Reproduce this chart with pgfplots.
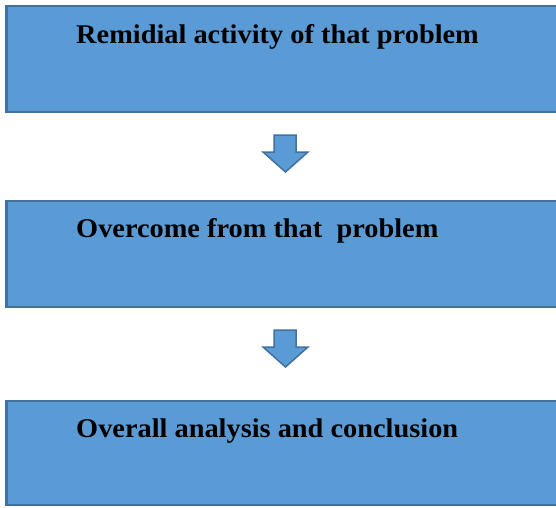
\documentclass[border=0pt]{standalone}
\usepackage{pgfplots}
\pgfplotsset{compat=1.18}
\usepackage{fontspec}
\setmainfont{Liberation Serif}
\definecolor{boxfill}{HTML}{5B9BD5}
\definecolor{boxline}{HTML}{41719C}
\begin{document}
\begin{tikzpicture}
\begin{axis}[
  at={(0,0)}, anchor=south west,
  width=556pt, height=507pt, scale only axis,
  xmin=0, xmax=556, ymin=0, ymax=507, y dir=reverse,
  axis lines=none, clip=true,
]
% boxes
\addplot[fill=boxfill, draw=boxline, line width=2.5pt] coordinates {(6.5,6) (570,6) (570,112) (6.5,112)} -- cycle;
\addplot[fill=boxfill, draw=boxline, line width=2.5pt] coordinates {(6.5,201) (570,201) (570,307) (6.5,307)} -- cycle;
\addplot[fill=boxfill, draw=boxline, line width=2.5pt] coordinates {(6.5,401) (570,401) (570,505) (6.5,505)} -- cycle;
% arrows
\addplot[fill=boxfill, draw=boxline, line width=1.5pt] coordinates {(274,135) (296,135) (296,152) (308,152) (285.5,172) (263,152) (274,152)} -- cycle;
\addplot[fill=boxfill, draw=boxline, line width=1.5pt] coordinates {(274,330) (296,330) (296,347) (308,347) (285.5,367) (263,347) (274,347)} -- cycle;
% labels
\node[anchor=base west, inner sep=0pt, font=\fontsize{27}{32}\selectfont\bfseries] at (axis cs:76,43.3) {\scalebox{1.05}[1]{Remidial activity of that problem}};
\node[anchor=base west, inner sep=0pt, font=\fontsize{27}{32}\selectfont\bfseries] at (axis cs:76,237.5) {\scalebox{1.05}[1]{Overcome from that\ \ problem}};
\node[anchor=base west, inner sep=0pt, font=\fontsize{27}{32}\selectfont\bfseries] at (axis cs:76,437.5) {\scalebox{1.05}[1]{Overall analysis and conclusion}};
\end{axis}
\pgfresetboundingbox
\useasboundingbox (0,0) rectangle (556pt,507pt);
\end{tikzpicture}
\end{document}
